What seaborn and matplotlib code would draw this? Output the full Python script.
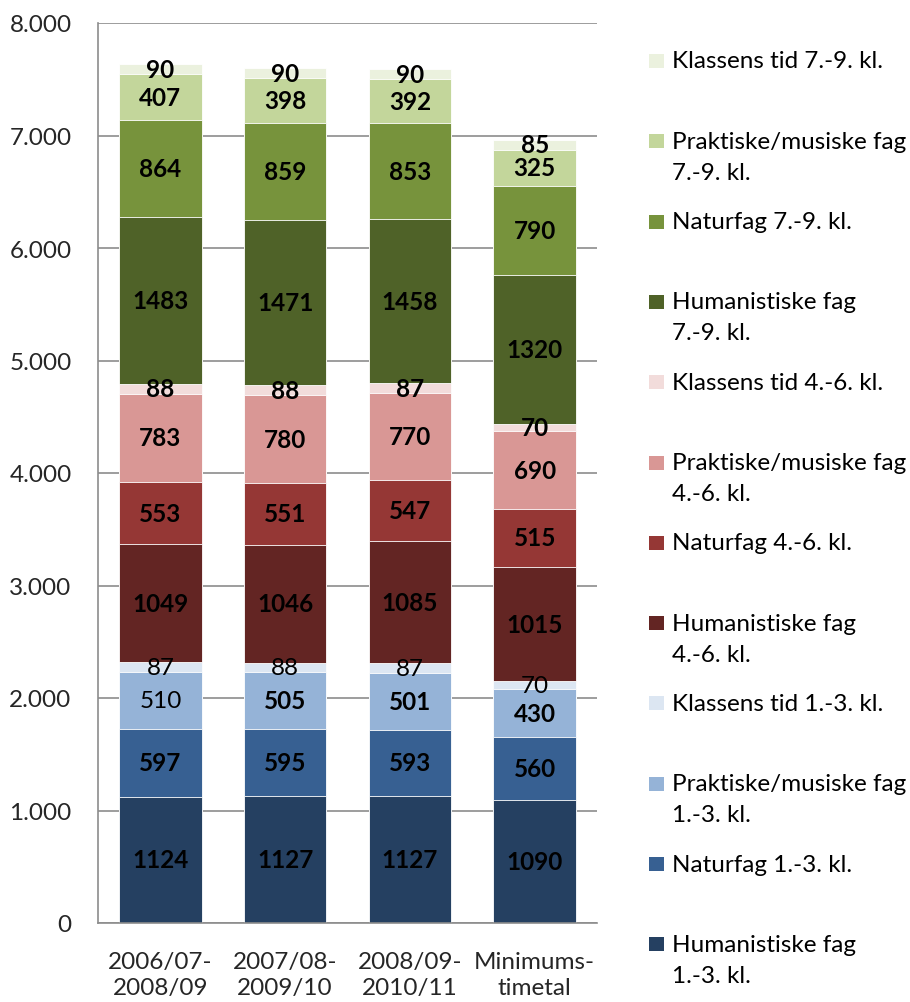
import numpy as np
import pandas as pd
import matplotlib
matplotlib.use("Agg")
import matplotlib.pyplot as plt
from matplotlib.patches import Rectangle
import seaborn as sns

# data (stacking order: bottom -> top)
categories = ["2006/07-\n2008/09", "2007/08-\n2009/10", "2008/09-\n2010/11", "Minimums-\ntimetal"]

series_names = [
    "Humanistiske fag\n1.-3. kl.",
    "Naturfag 1.-3. kl.",
    "Praktiske/musiske fag\n1.-3. kl.",
    "Klassens tid 1.-3. kl.",
    "Humanistiske fag\n4.-6. kl.",
    "Naturfag 4.-6. kl.",
    "Praktiske/musiske fag\n4.-6. kl.",
    "Klassens tid 4.-6. kl.",
    "Humanistiske fag\n7.-9. kl.",
    "Naturfag 7.-9. kl.",
    "Praktiske/musiske fag\n7.-9. kl.",
    "Klassens tid 7.-9. kl.",
]

hum_1_3 = [1124, 1127, 1127, 1090]
nat_1_3 = [597, 595, 593, 560]
prak_1_3 = [510, 505, 501, 430]
kl_1_3 = [87, 88, 87, 70]
hum_4_6 = [1049, 1046, 1085, 1015]
nat_4_6 = [553, 551, 547, 515]
prak_4_6 = [783, 780, 770, 690]
kl_4_6 = [88, 88, 87, 70]
hum_7_9 = [1483, 1471, 1458, 1320]
nat_7_9 = [864, 859, 853, 790]
prak_7_9 = [407, 398, 392, 325]
kl_7_9 = [90, 90, 90, 85]

series_values = [hum_1_3, nat_1_3, prak_1_3, kl_1_3,
                 hum_4_6, nat_4_6, prak_4_6, kl_4_6,
                 hum_7_9, nat_7_9, prak_7_9, kl_7_9]

colors = ["#254061", "#376092", "#95B3D7", "#DCE6F2",
          "#632523", "#953735", "#D99795", "#F2DCDB",
          "#4F6228", "#77933C", "#C3D69B", "#EBF1DE"]

y_ticks = [0, 1000, 2000, 3000, 4000, 5000, 6000, 7000, 8000]

# labels printed in regular weight in the original (series index, bar index)
plain_labels = {(3, 0), (3, 1), (3, 2), (3, 3), (2, 0)}

sns.set_style("white")
plt.rcParams["font.family"] = ["Lato", "DejaVu Sans"]
FS = 17.5

W, H = 910, 1003
fig = plt.figure(figsize=(W / 100, H / 100), dpi=100)
ax = fig.add_axes([98 / W, 1 - 924 / H, (597 - 98) / W, (924 - 24) / H])

vals = np.array(series_values, dtype=float)
cum = vals.cumsum(axis=0)
bottoms = cum - vals

# stacked bars: draw cumulative totals from the top down so lower layers cover them
for i in range(len(series_values) - 1, -1, -1):
    df = pd.DataFrame({"cat": categories, "val": cum[i]})
    sns.barplot(data=df, x="cat", y="val", color=colors[i], width=0.66,
                saturation=1, edgecolor="white", linewidth=0.6, ax=ax)

for i in range(len(series_values)):
    for j in range(len(categories)):
        w = "normal" if (i, j) in plain_labels else "bold"
        ax.text(j, bottoms[i, j] + vals[i, j] / 2, f"{int(vals[i, j])}",
                ha="center", va="center", fontsize=FS, fontweight=w, color="black")

ax.set_ylim(0, 8000)
ax.set_xlim(-0.5, len(categories) - 0.5)
ax.set_yticks(y_ticks)
ax.set_yticklabels([f"{t:,}".replace(",", ".") for t in y_ticks], fontsize=FS)
ax.set_xticks(range(len(categories)))
ax.set_xticklabels(categories, fontsize=FS, linespacing=1.3)
ax.set_xticks(np.arange(-0.5, len(categories), 1.0), minor=True)
ax.tick_params(axis="x", which="major", length=0, pad=20)
ax.tick_params(axis="x", which="minor", length=8, width=1.2, color="#8C8C8C", direction="out")
ax.tick_params(axis="y", length=8, width=1.2, color="#8C8C8C", direction="out", pad=11)
ax.set_xlabel("")
ax.set_ylabel("")

ax.yaxis.grid(True, color="#8C8C8C", linewidth=1.2)
ax.set_axisbelow(True)
for side in ["top", "right"]:
    ax.spines[side].set_visible(False)
for side in ["left", "bottom"]:
    ax.spines[side].set_color("#8C8C8C")
    ax.spines[side].set_linewidth(1.2)

# legend on the right, top entry = top of stack
first_y = 62
step = 80.3
for k, i in enumerate(range(len(series_names) - 1, -1, -1)):
    yc = first_y + k * step
    fig.add_artist(Rectangle((649 / W, 1 - (yc + 7) / H), 15 / W, 14 / H,
                             transform=fig.transFigure, facecolor=colors[i], edgecolor="none"))
    for n, line in enumerate(series_names[i].split("\n")):
        fig.text(672 / W, 1 - (yc + n * 31) / H, line, fontsize=FS,
                 ha="left", va="center", color="black")

fig.savefig("out.png", dpi=100)
